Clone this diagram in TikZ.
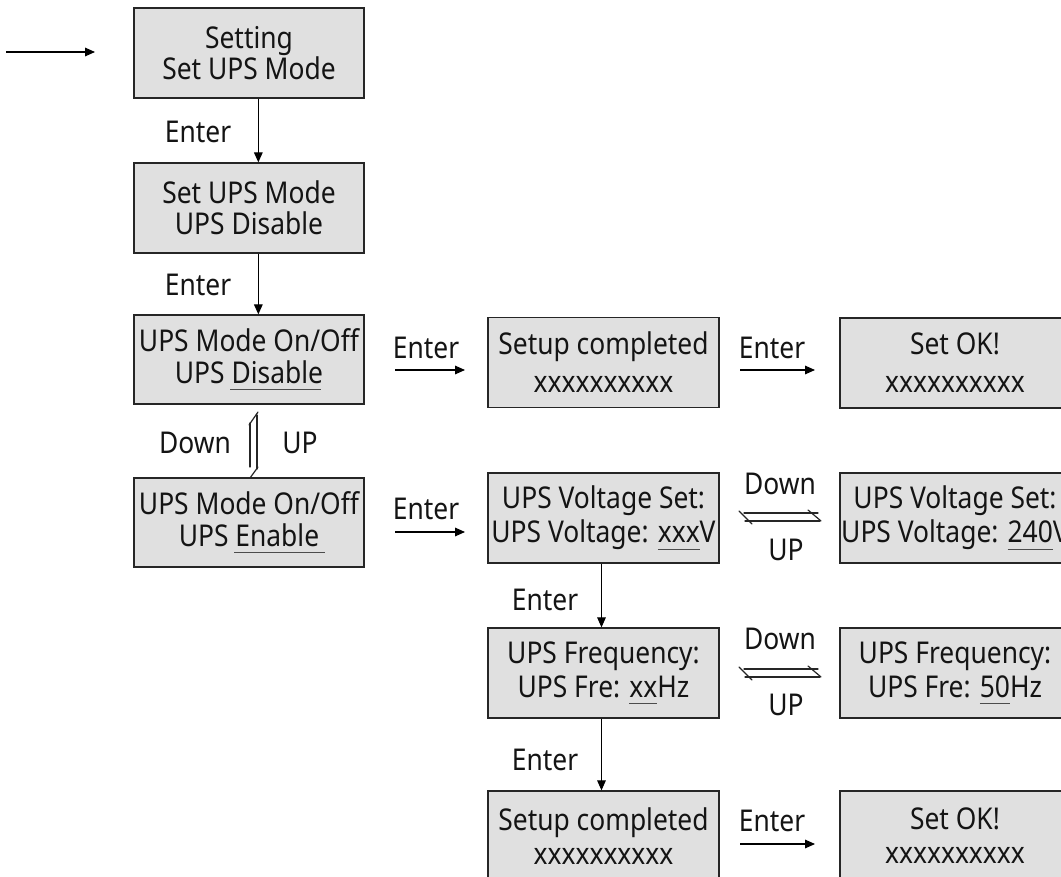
\documentclass[tikz,border=0pt]{standalone}
\usepackage{fontspec}
\setmainfont{Noto Sans}[FakeStretch=0.88]
\usetikzlibrary{arrows.meta}
\definecolor{boxfill}{RGB}{224,224,224}
\definecolor{ink}{RGB}{20,20,20}
\newcommand\ulw[1]{\sbox0{#1}\rlap{\color{black!70}\rule[-5.3pt]{\wd0}{0.75pt}}\usebox0}
\newcommand\ulfix[2]{\sbox0{#2}\rlap{\kern-1pt\color{black!70}\rule[-5.3pt]{#1}{0.75pt}}\usebox0}
\begin{document}
\begin{tikzpicture}[x=0.75pt,y=-0.75pt,
  font=\fontsize{22.5}{23.5}\selectfont,
  box/.style={draw=black!85, line width=1pt, fill=boxfill, minimum width=172.5pt,
    minimum height=67.5pt, align=center, inner sep=0pt, text=ink},
  lbl/.style={text=ink, inner sep=0pt},
  arr/.style={-{Triangle[length=7.5pt,width=6.5pt]}, line width=0.8pt, draw=black},
  harp/.style={line width=0.9pt, draw=black!85, line cap=round}]
\useasboundingbox (0,0) rectangle (1061,877);
\clip (0,0) rectangle (1061,877);

% column 1
\node[box] (b1) at (249,53) {Setting\\Set UPS Mode};
\node[box] (b2) at (249,208) {Set UPS Mode\\UPS Disable};
\node[box, minimum height=66.75pt] (b3) at (249,359.5) {UPS Mode On/Off\\UPS \ulfix{68pt}{Disable}};
\node[box, minimum height=66.75pt] (b4) at (249,522.5) {UPS Mode On/Off\\UPS \ulfix{68pt}{Enable}};

% column 2 and 3
\node[box, minimum width=173.25pt] (b5) at (603.5,362.5) {Setup completed\\[5pt]xxxxxxxxxx};
\node[box] (b6) at (955,363) {Set OK!\\[5pt]xxxxxxxxxx};
\node[box, minimum width=173.25pt] (b7) at (603.5,518) {UPS Voltage Set:\\[2pt]UPS Voltage: \ulw{xxx}V};
\node[box] (b8) at (955,518) {UPS Voltage Set:\\[2pt]UPS Voltage: \ulw{240}V};
\node[box, minimum width=173.25pt] (b9) at (603.5,673) {UPS Frequency:\\[2pt]UPS Fre: \ulw{xx}Hz};
\node[box] (b10) at (955,673) {UPS Frequency:\\[2pt]UPS Fre: \ulw{50}Hz};
\node[box, minimum width=173.25pt] (b11) at (603.5,836) {Setup completed\\[2pt]xxxxxxxxxx};
\node[box] (b12) at (955,836) {Set OK!\\[2pt]xxxxxxxxxx};

% labels
\node[lbl] (e1) at (198,132) {Enter};
\node[lbl] (e2) at (198,285) {Enter};
\node[lbl] (dn1) at (195,443) {Down};
\node[lbl] (up1) at (300,443) {UP};
\node[lbl] (e3) at (426,348) {Enter};
\node[lbl] (e4) at (772,348) {Enter};
\node[lbl] (e5) at (426,509) {Enter};
\node[lbl] (dn2) at (780,484) {Down};
\node[lbl] (up2) at (786,550) {UP};
\node[lbl] (e6) at (545,600) {Enter};
\node[lbl] (dn3) at (780,639) {Down};
\node[lbl] (up3) at (786,705) {UP};
\node[lbl] (e7) at (545,760) {Enter};
\node[lbl] (e8) at (772,821) {Enter};

% coordinates for free ends
\coordinate (in0) at (6,52);
\coordinate (in1) at (95,52);
\coordinate (a3s) at (395,370);
\coordinate (a3e) at (465,370);
\coordinate (a4s) at (740,370);
\coordinate (a4e) at (815,370);
\coordinate (a5s) at (395,532);
\coordinate (a5e) at (465,532);
\coordinate (a6s) at (740,844);
\coordinate (a6e) at (815,844);

% arrows
\draw[arr] (in0) -- (in1);
\draw[arr] ([xshift=7]b1.south) -- ([xshift=7]b2.north);
\draw[arr] ([xshift=7]b2.south) -- ([xshift=7]b3.north);
\draw[arr] (a3s) -- (a3e);
\draw[arr] (a4s) -- (a4e);
\draw[arr] (a5s) -- (a5e);
\draw[arr] ([xshift=-1.5]b7.south) -- ([xshift=-1.5]b9.north);
\draw[arr] ([xshift=-1.5]b9.south) -- ([xshift=-1.5]b11.north);
\draw[arr] (a6s) -- (a6e);

% vertical harpoons between b3 and b4
\draw[harp] (250,423) -- (250,467);
\draw[harp] (249,425) -- (258,412);
\draw[harp] (257,415) -- (257,469);
\draw[harp] (258,467) -- (250,478);

% horizontal harpoons between b7 and b8
\draw[harp] (744,513) -- (818,513);
\draw[harp] (739,511) -- (752,524);
\draw[harp] (745,521) -- (820,521);
\draw[harp] (808,510) -- (821,521);

% horizontal harpoons between b9 and b10
\draw[harp] (744,669) -- (818,669);
\draw[harp] (739,667) -- (752,680);
\draw[harp] (745,677) -- (820,677);
\draw[harp] (808,666) -- (821,677);
\end{tikzpicture}
\end{document}
